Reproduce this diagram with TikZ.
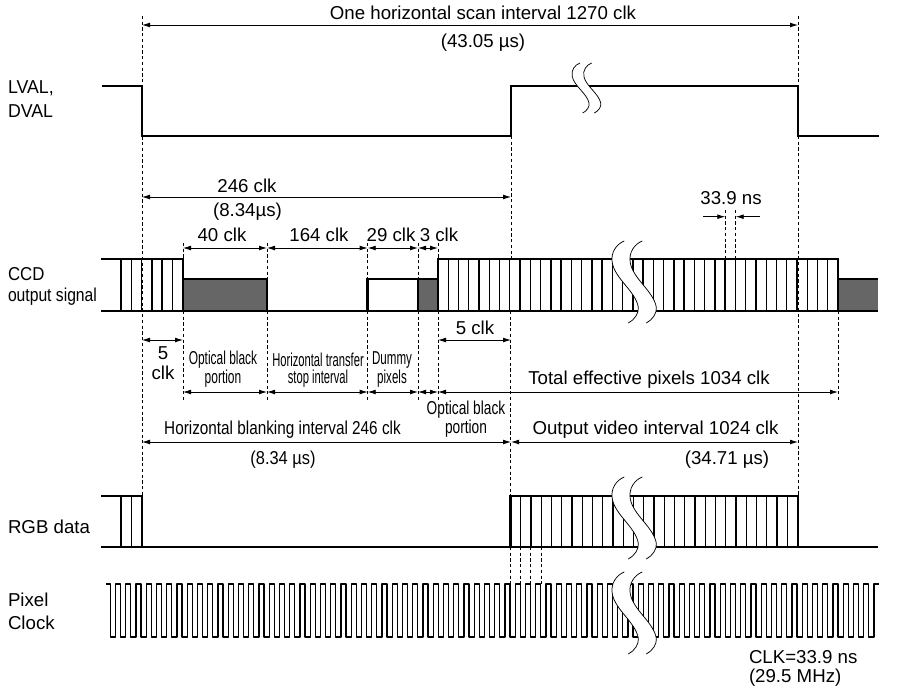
\documentclass[tikz,border=0pt]{standalone}
\usepackage{fontspec}
\setmainfont{Liberation Sans}
\usetikzlibrary{arrows.meta}
\definecolor{darkfill}{HTML}{666666}
\tikzset{
  txt/.style={inner sep=0pt,outer sep=0pt,font=\fontsize{14}{16}\selectfont},
  lbl/.style={txt,anchor=west},
  sig/.style={line width=2.15pt,line cap=butt,line join=miter},
  thin tick/.style={line width=1.05pt},
  guide/.style={line width=.55pt,dash pattern=on 2.4pt off 1.9pt},
  dimarr/.style={line width=.6pt,{Latex[length=6pt,width=3.6pt]}-{Latex[length=6pt,width=3.6pt]}},
  rarr/.style={line width=.6pt,-{Latex[length=6pt,width=3.6pt]}},
  clock/.style={line width=.95pt,line join=round},
  brk/.style={line width=.55pt},
}
\newcommand{\nar}[2]{\scalebox{#1}[1]{#2}}
\newcommand{\dashln}[3]{\draw[guide] (#1,#2) -- (#1,#3);}
\newcommand{\dimln}[4]{%
  \coordinate (d#1a) at (#2,#4); \coordinate (d#1b) at (#3,#4);
  \draw[dimarr] (d#1a) -- (d#1b);}
\newcommand{\shapepath}{(0,0) .. controls (-8,3) and (-14,12) .. (-12,22) .. controls (-9,38) and (11,50) .. (14,66) .. controls (15,72) and (10,79) .. (4,82)}
\newcommand{\bandfill}{\fill[white] (0,0) .. controls (-8,3) and (-14,12) .. (-12,22) .. controls (-9,38) and (11,50) .. (14,66) .. controls (15,72) and (10,79) .. (4,82)
      -- (22,82) .. controls (28,79) and (33,72) .. (32,66) .. controls (29,50) and (9,38) .. (6,22) .. controls (4,12) and (10,3) .. (18,0) -- cycle;}
% white band with two wavy edges
\newcommand{\wavebreak}[2]{%
  \begin{scope}[shift={(#1,#2)}]
    \bandfill
    \draw[brk] \shapepath;
    \begin{scope}[shift={(18,0)}]
      \draw[brk] \shapepath;
    \end{scope}
  \end{scope}}
\begin{document}
\begin{tikzpicture}[x=.75pt,y=-.75pt]
\useasboundingbox (0,0) rectangle (899,692);

% ---------- guide lines
\dashln{142}{16}{547}
\dashln{798}{16}{86}
\dashln{798}{136}{496}
\dashln{511}{136}{259}
\dashln{510.5}{311}{496}
\dashln{183}{243}{259}
\dashln{183}{311}{400}
\dashln{267}{243}{279}
\dashln{267}{311}{400}
\dashln{367.7}{243}{279}
\dashln{367.7}{311}{400}
\dashln{418}{243}{279}
\dashln{418}{311}{400}
\dashln{438}{243}{259}
\dashln{438}{311}{400}
\dashln{838}{311}{400}
\dashln{725.3}{210}{259}
\dashln{735.7}{210}{259}
\dashln{510.3}{547}{584}
\dashln{520.5}{547}{584}
\dashln{530.8}{547}{584}
\dashln{541}{547}{584}

% ---------- LVAL
\draw[sig] (102,86) -- (142,86) -- (142,136) -- (511,136) -- (511,86) -- (798,86) -- (798,136) -- (879,136);
\begin{scope}[shift={(580,63)},xscale=.65,yscale=.61]
  \bandfill
  \draw[brk] \shapepath;
  \begin{scope}[shift={(18,0)}]
    \draw[brk] \shapepath;
  \end{scope}
\end{scope}

% ---------- CCD
\fill[darkfill] (183,279) rectangle (267,311);
\fill[darkfill] (418,279) rectangle (438,311);
\fill[darkfill] (838,279) rectangle (878,311);
\foreach \x in {121,131.3,141.6,151.8,162.1,172.3}
  \draw[thin tick] (\x,259) -- (\x,311);
\foreach \k in {1,...,38}
  \draw[thin tick] ({438+10.256*\k},259) -- ({438+10.256*\k},311);
\draw[sig] (101,259) -- (183,259) -- (183,311);
\draw[sig] (183,279) -- (267,279) -- (267,311);
\draw[sig] (367.7,311) -- (367.7,279) -- (438,279);
\draw[sig] (438,311) -- (438,259) -- (838,259) -- (838,311);
\draw[sig] (838,279) -- (878,279);
\draw[sig] (101,311) -- (878,311);
\draw[line width=.9pt] (418,279) -- (418,311);
\wavebreak{624.3}{241}

% ---------- RGB
\foreach \x in {121,131.3}
  \draw[thin tick] (\x,496) -- (\x,547);
\foreach \k in {1,...,27}
  \draw[thin tick] ({510.5+10.25*\k},496) -- ({510.5+10.25*\k},547);
\draw[sig] (101,496) -- (142,496) -- (142,547);
\draw[sig] (510.5,547) -- (510.5,496) -- (798,496) -- (798,547);
\draw[sig] (101,547) -- (878,547);
\wavebreak{624.3}{477}

% ---------- Pixel clock
\draw[clock] (105.7,584) \foreach \k in {0,...,74} {
    -- ({110.3+10.25*\k},584) -- ({110.3+10.25*\k},637)
    -- ({115.6+10.25*\k},637) -- ({115.6+10.25*\k},584)} -- (879,584);
\wavebreak{624.3}{572}

% ---------- dimension arrows
\dimln{scan}{142}{798}{25}
\dimln{a}{142}{511}{197}
\dimln{b}{183}{267}{248}
\dimln{c}{267}{367.7}{248}
\dimln{d}{367.7}{418}{248}
\dimln{e}{418}{438}{248}
\dimln{f}{142}{183}{340}
\dimln{g}{438}{511}{340}
\dimln{h}{183}{267}{392}
\dimln{i}{267}{367.7}{392}
\dimln{j}{367.7}{418}{392}
\dimln{k}{418}{438}{392}
\dimln{l}{438}{838}{392}
\dimln{m}{142}{511}{442}
\dimln{n}{511}{798}{442}
\coordinate (ns1s) at (703,216.7); \coordinate (ns1e) at (725.3,216.7);
\coordinate (ns2s) at (760,216.7); \coordinate (ns2e) at (735.7,216.7);
\draw[rarr] (ns1s) -- (ns1e);
\draw[rarr] (ns2s) -- (ns2e);

% ---------- texts
\node[txt] (t1) at (483,12.5) {One horizontal scan interval 1270 clk};
\node[txt] (t2) at (483,43) {(43.05 µs)};
\node[lbl] (t3) at (8,88) {\nar{.95}{LVAL,}};
\node[lbl] (t4) at (8,111) {\nar{.95}{DVAL}};
\node[lbl] (t5) at (8,274) {\nar{.9}{CCD}};
\node[lbl] (t6) at (8,297) {\nar{.84}{output signal}};
\node[lbl] (t7) at (8,527) {RGB data};
\node[lbl] (t8) at (8,600) {Pixel};
\node[lbl] (t9) at (8,623) {Clock};
\node[txt] (t10) at (247,186) {246 clk};
\node[txt] (t11) at (247.5,212) {(8.34µs)};
\node[txt] (t12) at (222,235) {40 clk};
\node[txt] (t13) at (319,235) {164 clk};
\node[txt] (t14) at (391,235) {29 clk};
\node[txt] (t15) at (439,235) {3 clk};
\node[txt] (t16) at (731,198) {33.9 ns};
\node[txt] (t17) at (163,353) {5};
\node[txt] (t18) at (163,373) {clk};
\node[txt] (t19) at (475,328) {5 clk};
\node[txt] (t20) at (223,360) {\nar{.64}{Optical black}};
\node[txt] (t21) at (223,379) {\nar{.64}{portion}};
\node[txt] (t22) at (318,360) {\nar{.6}{Horizontal transfer}};
\node[txt] (t23) at (318,379) {\nar{.6}{stop interval}};
\node[txt] (t24) at (392,360) {\nar{.62}{Dummy}};
\node[txt] (t25) at (392,379) {\nar{.62}{pixels}};
\node[txt] (t26) at (466,410) {\nar{.735}{Optical black}};
\node[txt] (t27) at (466,429) {\nar{.735}{portion}};
\node[txt] (t28) at (649,380) {Total effective pixels 1034 clk};
\node[txt] (t29) at (282.5,430) {\nar{.82}{Horizontal blanking interval 246 clk}};
\node[txt] (t30) at (283,460) {\nar{.88}{(8.34 µs)}};
\node[txt] (t31) at (655.5,430) {Output video interval 1024 clk};
\node[txt] (t32) at (727,460) {(34.71 µs)};
\node[lbl] (t33) at (749,657) {CLK=33.9 ns};
\node[lbl] (t34) at (749,678) {(29.5 MHz)};
\end{tikzpicture}
\end{document}
